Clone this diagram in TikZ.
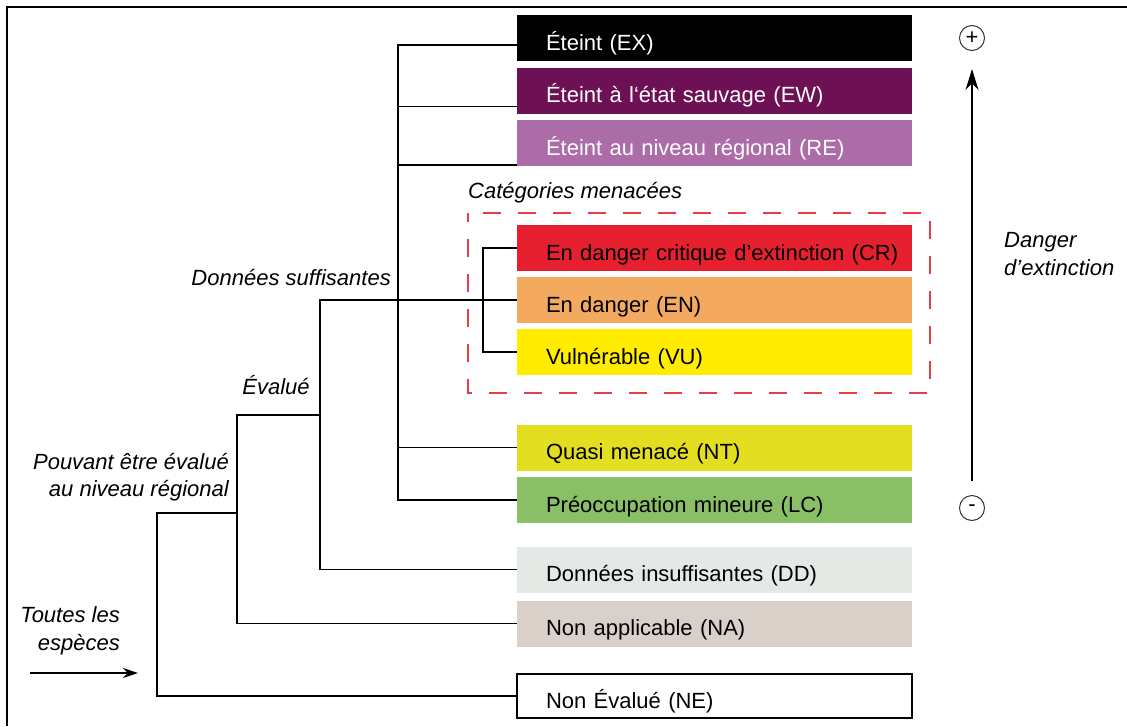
\documentclass[tikz,border=0pt]{standalone}
\usepackage{fontspec}
\setmainfont{Liberation Sans}
\usetikzlibrary{arrows.meta}
\definecolor{ewcol}{RGB}{110,17,84}
\definecolor{recol}{RGB}{172,108,168}
\definecolor{crcol}{RGB}{230,32,46}
\definecolor{encol}{RGB}{243,170,96}
\definecolor{vucol}{RGB}{255,236,0}
\definecolor{ntcol}{RGB}{227,222,32}
\definecolor{lccol}{RGB}{137,191,101}
\definecolor{ddcol}{RGB}{229,233,229}
\definecolor{nacol}{RGB}{217,208,201}
\definecolor{dashred}{RGB}{232,62,72}
\newcommand{\diagfont}{\fontsize{22}{27.5}\selectfont}
\tikzset{cat/.style = {shape=rectangle,minimum height=46pt,text width=337pt,text height=24pt,text depth=0pt,inner xsep=29pt,inner ysep=0pt,align=left}}
\tikzset{lbl/.style = {inner sep=0pt,font=\diagfont\itshape}}
\tikzset{link/.style = {line width=1.3pt}}
\tikzset{edge/.style = {-{Stealth[length=15pt,width=10pt]},line width=1.3pt}}
\tikzset{sign/.style = {shape=circle,draw=black!80,line width=1pt,minimum size=25pt,inner sep=0pt}}

\begin{document}
\begin{tikzpicture}[x=1pt,y=-1pt,font=\diagfont]
            \useasboundingbox (0,0) rectangle (1127,726);
            \draw[line width=2.5pt] (7,726) -- (7,7) -- (1127,7);
            % categories
            \node[cat,fill=black,text=white] (ex) at (714.5,38) {Éteint (EX)};
            \node[cat,fill=ewcol,text=white] (ew) at (714.5,90.5) {Éteint à l‘état sauvage (EW)};
            \node[cat,fill=recol,text=white] (re) at (714.5,143) {Éteint au niveau régional (RE)};
            \node[cat,fill=crcol] (cr) at (714.5,248) {\mbox{En danger critique d’extinction (CR)}};
            \node[cat,fill=encol] (en) at (714.5,300) {En danger (EN)};
            \node[cat,fill=vucol] (vu) at (714.5,352) {Vulnérable (VU)};
            \node[cat,fill=ntcol] (nt) at (714.5,447.5) {Quasi menacé (NT)};
            \node[cat,fill=lccol] (lc) at (714.5,500) {Préoccupation mineure (LC)};
            \node[cat,fill=ddcol] (dd) at (714.5,569.5) {Données insuffisantes (DD)};
            \node[cat,fill=nacol] (na) at (714.5,623.5) {Non applicable (NA)};
            \node[cat,draw,line width=1.3pt,minimum height=44pt] (ne) at (714.5,696) {Non Évalué (NE)};
            % group of threatened categories
            \draw[dashred,line width=1.2pt,dash pattern=on 18pt off 17pt,dash phase=9pt] (468,213) rectangle (930,393);
            \node[lbl,anchor=west] (menace) at (468,193) {Catégories menacées};
            % labels of the tree
            \node[lbl,anchor=east] (suff) at (391,278) {Données suffisantes};
            \node[lbl] (evalue) at (276,385) {Évalué};
            \node[lbl,anchor=east,align=right] (pouvant) at (229,477) {Pouvant être évalué\\au niveau régional};
            \node[lbl,anchor=east,align=right] (toutes) at (120,631) {Toutes les\\espèces};
            \node[lbl,anchor=west,align=left] (danger) at (1004,254) {Danger\\d’extinction};
            % tree
            \coordinate (j1) at (157,513);
            \coordinate (j2) at (237,415);
            \coordinate (j3) at (320,300);
            \coordinate (trunk) at (398,0);
            \coordinate (j4) at (483,0);
            \draw[link] (ne.west) -| (j1) -- (j1 -| j2);
            \draw[link] (na.west) -| (j2) -- (j2 -| j3);
            \draw[link] (dd.west) -| (j3) -- (en.west);
            \draw[link] ([yshift=-7pt]ex.west) -| (trunk |- lc.west) -- (lc.west);
            \draw[link] ([yshift=-16pt]ew.west) -- +(-119,0);
            \draw[link] ([yshift=-22pt]re.west) -- +(-119,0);
            \draw[link] (nt.west) -- (nt.west -| trunk);
            \draw[link] (cr.west) -| (vu.west -| j4) -- (vu.west);
            % entry arrow
            \coordinate (in0) at (30,673);
            \coordinate (in1) at (138,673);
            \draw[edge] (in0) -- (in1);
            % scale of danger
            \node[sign] (plus) at (972,38) {+};
            \node[sign] (minus) at (972,508) {-};
            \draw[edge,-{Stealth[length=21pt,width=13pt]},shorten <=14pt,shorten >=18pt] (minus) -- (plus);
\end{tikzpicture}
\end{document}
